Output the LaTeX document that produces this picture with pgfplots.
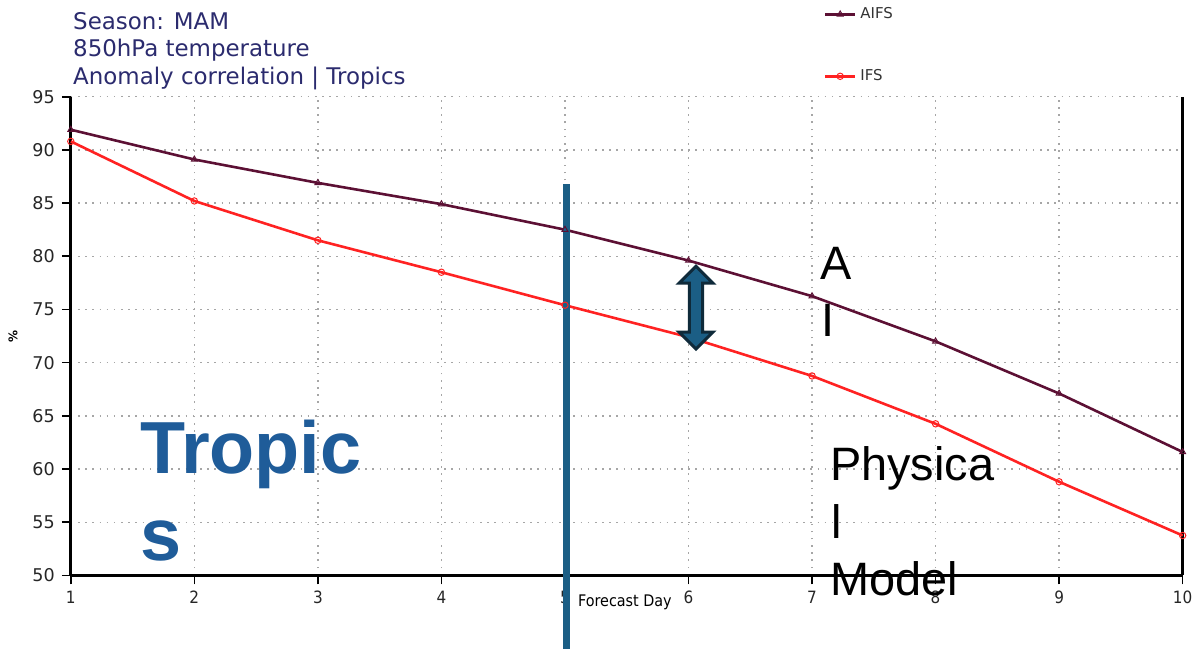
\documentclass[border=0pt]{standalone}
\usepackage{pgfplots}
\pgfplotsset{compat=1.18}
\usepackage{fontspec}
\setmainfont{DejaVu Sans}
\newfontfamily\cond{DejaVu Sans Condensed}
\newfontfamily\arial{Liberation Sans}
\definecolor{aifs}{HTML}{5C1034}
\definecolor{ifs}{HTML}{FF2222}
\definecolor{ttl}{HTML}{2B2B6E}
\definecolor{bl}{HTML}{1B5E85}
\definecolor{trop}{HTML}{1F5C99}
\definecolor{dk}{HTML}{0F2A3A}
\begin{document}
\begin{tikzpicture}
\begin{axis}[
  scale only axis, width=557.5pt, height=240pt,
  xmin=1, xmax=10, ymin=50, ymax=95,
  xtick={1,...,10}, ytick={50,55,...,95},
  axis y line=box, axis x line*=bottom,
  ytick pos=left,
  axis line style={black, line width=1.4pt},
  tick align=outside, major tick length=4.5pt,
  tick style={black, line width=0.8pt},
  grid=major,
  major grid style={gray!70, line width=0.7pt, dash pattern=on 0.8pt off 2.8pt},
  /pgf/number format/assume math mode=true,
  yticklabel style={font=\fontsize{8.8}{9}\selectfont, text=black!85},
  xticklabel style={font=\cond\fontsize{8.5}{9}\selectfont, text=black!85},
  xlabel={\cond\fontsize{8}{9}\selectfont Forecast Day},
  xlabel style={at={(0.45,0)}, anchor=north west, yshift=-6pt},
  ylabel={\bfseries\fontsize{6}{7}\selectfont \%},
  ylabel style={at={(-0.052,0.5)}, anchor=center},
  clip=false,
  legend style={at={(0.677,1.196)}, anchor=north west, draw=none, fill=none,
    font=\fontsize{7.5}{8}\selectfont, row sep=20pt, inner sep=0pt,
    cells={anchor=west}, text=black!80},
  legend image code/.code={\draw[mark repeat=2,mark phase=2,#1] plot coordinates {(0pt,0pt) (7.5pt,0pt) (15pt,0pt)};},
]
\addplot[aifs, line width=1.3pt, mark=triangle, mark size=1.7pt, mark options={line width=0.5pt, fill=none}]
coordinates {(1,91.9) (2,89.1) (3,86.9) (4,84.9) (5,82.5) (6,79.6) (7,76.25) (8,72.0) (9,67.1) (10,61.6)};
\addlegendentry{AIFS}
\addplot[ifs, line width=1.3pt, mark=o, mark size=1.6pt, mark options={line width=0.5pt, fill=none}]
coordinates {(1,90.8) (2,85.2) (3,81.5) (4,78.5) (5,75.4) (6,72.4) (7,68.75) (8,64.25) (9,58.8) (10,53.75)};
\addlegendentry{IFS}
\draw[bl, line width=3.7pt] (axis cs:5.01,86.75) -- (axis cs:5.01,43.06);
\end{axis}
\path[use as bounding box] (-35.5pt,-37pt) rectangle (564pt,288.5pt);
% title
\node[anchor=base west, inner sep=0pt, text=ttl, font=\fontsize{11.5}{12}\selectfont] at (1pt,273.5pt) {Season: MAM};
\node[anchor=base west, inner sep=0pt, text=ttl, font=\fontsize{11.5}{12}\selectfont] at (1pt,260pt) {850hPa temperature};
\node[anchor=base west, inner sep=0pt, text=ttl, font=\fontsize{11.5}{12}\selectfont] at (1pt,246pt) {Anomaly correlation | Tropics};
% arrow
\filldraw[fill=bl, draw=dk, line width=1.5pt, line join=miter]
 (313.5pt,155pt) -- (322pt,146.5pt) -- (316.8pt,146.5pt) -- (316.8pt,122pt) -- (322pt,122pt) -- (313.5pt,113.5pt) -- (305pt,122pt) -- (310.2pt,122pt) -- (310.2pt,146.5pt) -- (305pt,146.5pt) -- cycle;
% annotations
\node[anchor=base west, inner sep=0pt, text=trop, font=\arial\bfseries\fontsize{37}{40}\selectfont] at (34.5pt,51pt) {Tropic};
\node[anchor=base west, inner sep=0pt, text=trop, font=\arial\bfseries\fontsize{37}{40}\selectfont] at (34.5pt,7.5pt) {s};
\node[anchor=base west, inner sep=0pt, font=\arial\fontsize{23.5}{26}\selectfont] at (375.5pt,148.5pt) {A};
\node[anchor=base west, inner sep=0pt, font=\arial\fontsize{23.5}{26}\selectfont] at (376pt,120pt) {I};
\node[anchor=base west, inner sep=0pt, font=\arial\fontsize{23.5}{26}\selectfont] at (380.5pt,47.5pt) {Physica};
\node[anchor=base west, inner sep=0pt, font=\arial\fontsize{23.5}{26}\selectfont] at (381pt,18.5pt) {l};
\node[anchor=base west, inner sep=0pt, font=\arial\fontsize{23.5}{26}\selectfont] at (380.5pt,-10pt) {Model};
\end{tikzpicture}
\end{document}
